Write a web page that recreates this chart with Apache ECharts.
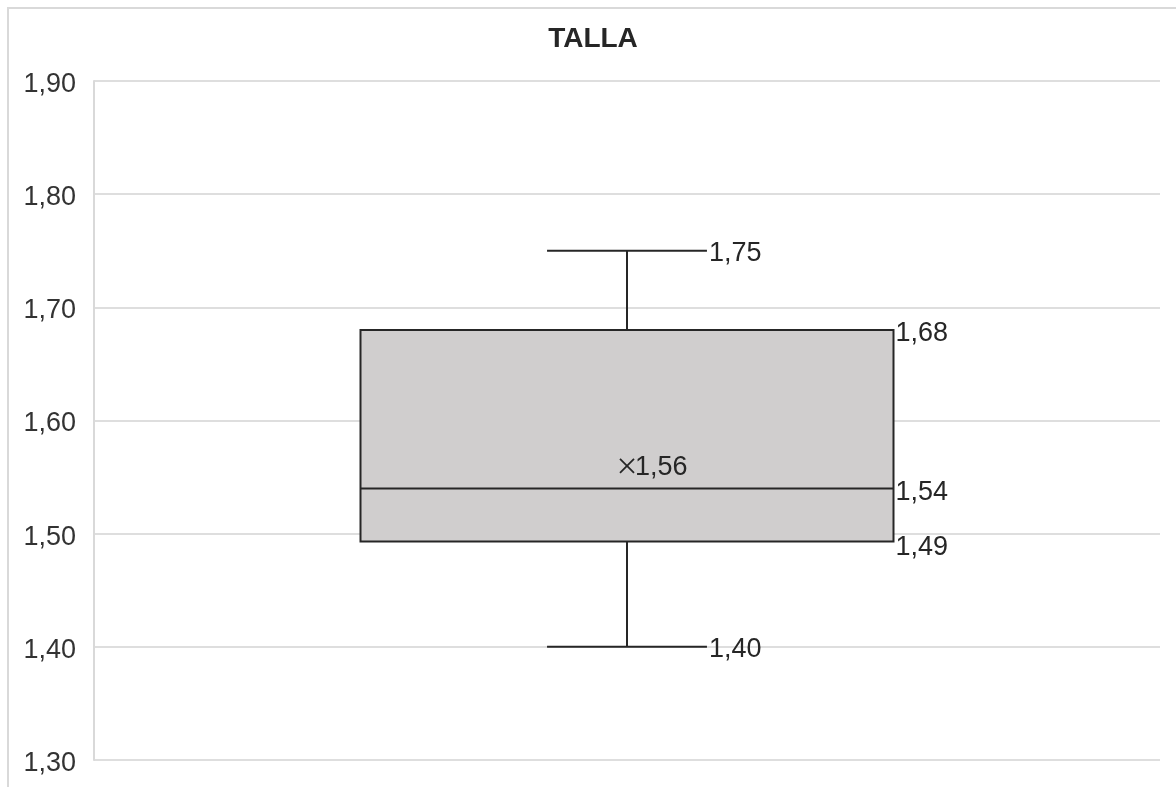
<!DOCTYPE html>
<html>
<head>
<meta charset="utf-8">
<script src="https://cdn.jsdelivr.net/npm/echarts@6/dist/echarts.min.js"></script>
<style>
  html, body { margin: 0; padding: 0; background: #ffffff; }
  #chart { width: 1176px; height: 787px; }
</style>
</head>
<body>
<div id="chart"></div>
<script>
// Height distribution ("talla") summarised as a box plot
const chartTitle = 'TALLA';
const categories = ['TALLA'];
// five-number summary: minimum, first quartile, median, third quartile, maximum
const whiskerLow = [1.40];
const quartile1 = [1.493];
const medians = [1.54];
const quartile3 = [1.68];
const whiskerHigh = [1.75];
const means = [1.56];
// value axis ticks
const yTicks = [1.30, 1.40, 1.50, 1.60, 1.70, 1.80, 1.90];

const fmt = v => v.toFixed(2).replace('.', ',');
const FONT = '"Liberation Sans", Arial, sans-serif';
const INK = '#262626';

const seriesData = categories.map((c, i) => [
  0.5, whiskerLow[i], quartile1[i], medians[i], quartile3[i], whiskerHigh[i], means[i]
]);

function labelText(x, y, text) {
  return {
    type: 'text',
    style: {
      x: x, y: y, text: text,
      fill: INK, font: '27px ' + FONT,
      align: 'left', verticalAlign: 'middle'
    }
  };
}

function line(x1, y1, x2, y2, w) {
  return {
    type: 'line',
    shape: { x1: x1, y1: y1, x2: x2, y2: y2 },
    style: { stroke: INK, lineWidth: w || 2 }
  };
}

function renderBox(params, api) {
  const cx = api.value(0);
  const lo = api.value(1), q1 = api.value(2), med = api.value(3),
        q3 = api.value(4), hi = api.value(5), mean = api.value(6);
  const boxHalf = 0.25, capHalf = 0.075;
  const px = v => api.coord([v, med])[0];
  const py = v => api.coord([cx, v])[1];
  const xC = px(cx), xL = px(cx - boxHalf), xR = px(cx + boxHalf);
  const cL = px(cx - capHalf), cR = px(cx + capHalf);
  const yLo = py(lo), yQ1 = py(q1), yMed = py(med), yQ3 = py(q3), yHi = py(hi), yMean = py(mean);
  const m = 7;
  return {
    type: 'group',
    children: [
      line(xC, yQ3, xC, yHi),
      line(cL, yHi, cR, yHi),
      line(xC, yQ1, xC, yLo),
      line(cL, yLo, cR, yLo),
      {
        type: 'rect',
        shape: { x: xL, y: yQ3, width: xR - xL, height: yQ1 - yQ3 },
        style: { fill: '#d0cece', stroke: INK, lineWidth: 2 }
      },
      line(xL, yMed, xR, yMed),
      line(xC - m, yMean - m, xC + m, yMean + m, 1.8),
      line(xC - m, yMean + m, xC + m, yMean - m, 1.8),
      labelText(cR + 2, yHi + 3, fmt(hi)),
      labelText(xR + 2, yQ3 + 4, fmt(q3)),
      labelText(xR + 2, yMed + 4, fmt(med)),
      labelText(xR + 2, yQ1 + 6, fmt(q1)),
      labelText(cR + 2, yLo + 3, fmt(lo)),
      labelText(xC + 8, yMean + 2, fmt(mean))
    ]
  };
}

const chart = echarts.init(document.getElementById('chart'));
chart.setOption({
  animation: false,
  backgroundColor: '#ffffff',
  graphic: [
    {
      type: 'rect',
      z: -10,
      shape: { x: 8, y: 8, width: 1300, height: 900 },
      style: { fill: 'none', stroke: '#d9d9d9', lineWidth: 2 }
    },
    {
      type: 'text',
      style: {
        x: 593, y: 39, text: chartTitle,
        font: 'bold 28px ' + FONT, fill: INK,
        align: 'center', verticalAlign: 'middle'
      }
    }
  ],
  grid: { left: 94, right: 16, top: 81, bottom: 27, containLabel: false },
  xAxis: {
    type: 'value', min: 0, max: 1,
    show: false
  },
  yAxis: {
    type: 'value',
    min: yTicks[0], max: yTicks[yTicks.length - 1], interval: 0.1,
    axisLine: { show: true, lineStyle: { color: '#d9d9d9', width: 2 } },
    axisTick: { show: false },
    splitLine: { show: true, lineStyle: { color: '#dedede', width: 2 } },
    axisLabel: {
      margin: 18,
      color: '#333333',
      fontFamily: FONT,
      fontSize: 27,
      formatter: v => '{t|' + fmt(v) + '}',
      rich: {
        t: {
          color: '#333333',
          fontFamily: FONT,
          fontSize: 27,
          lineHeight: 30,
          padding: [7, 0, 0, 0]
        }
      }
    }
  },
  series: [{
    type: 'custom',
    name: categories[0],
    renderItem: renderBox,
    encode: { x: 0, y: [1, 2, 3, 4, 5, 6] },
    data: seriesData,
    clip: false
  }]
});
</script>
</body>
</html>
